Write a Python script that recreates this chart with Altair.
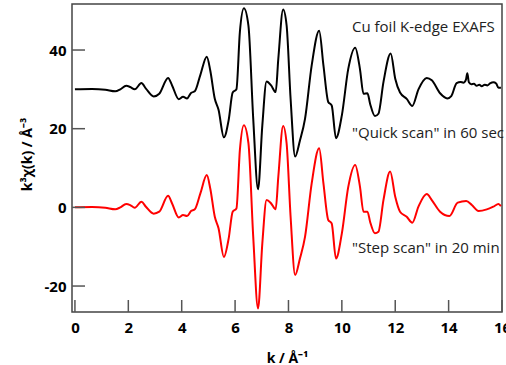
import altair as alt
import pandas as pd

# k grid (Å^-1) and k^3-weighted chi(k) for the step scan (red)
k_step = [0, 0.64, 1.14, 1.51, 1.70, 1.92, 2.07, 2.24, 2.49, 2.66, 2.95, 3.16, 3.49, 3.64,
          3.89, 4.05, 4.20, 4.35, 4.49, 4.70, 4.94, 5.07, 5.24, 5.38, 5.58, 5.76, 5.91, 6.05,
          6.18, 6.33, 6.50, 6.68, 6.86, 7.02, 7.18, 7.35, 7.52, 7.62, 7.80, 7.93, 8.08, 8.25,
          8.43, 8.62, 8.87, 9.15, 9.31, 9.49, 9.62, 9.78, 10.0, 10.24, 10.5, 10.68, 10.81,
          10.96, 11.06, 11.24, 11.37, 11.56, 11.81, 12.0, 12.18, 12.43, 12.64, 12.87, 13.18,
          13.37, 13.68, 14.03, 14.34, 14.66, 14.87, 15.12, 15.43, 15.68, 15.87, 15.96]
chi_step = [0, 0.1, -0.1, -0.5, 0, 0.84, 0.58, -0.1, 1.43, 0.15, -1.6, -1.1, 2.96, 1.0,
            -2.55, -1.96, -2.2, -0.94, -0.5, 3.56, 8.2, 4.8, -2.4, -5.3, -12.6, -7.9, -1.1, -0.3,
            14.6, 20.9, 16.3, -7.5, -25.7, -9.2, 1.86, 1.0, -0.5, 7.8, 20.7, 16.3, -2.4, -17.2,
            -13.0, -7.5, 6.1, 15.0, 6.1, -3.2, -4.1, -13.0, -6.6, 5.2, 10.8, 5.2, -1.1,
            -1.1, -3.7, -6.6, -6.2, 1.9, 9.1, 2.7, -1.1, -2.4, -3.9, 0.2, 3.4,
            1.86, -1.1, -2.2, 1.2, 1.6, 0.6, -0.9, -0.5, 0.2, 0.84, 0.3]

# quick scan (black), shifted up by 30 for display
k_quick = [0, 0.64, 1.14, 1.51, 1.70, 1.92, 2.07, 2.24, 2.49, 2.66, 2.95, 3.16, 3.49, 3.64,
           3.89, 4.05, 4.20, 4.35, 4.49, 4.70, 4.94, 5.07, 5.24, 5.38, 5.58, 5.76, 5.91, 6.05,
           6.18, 6.33, 6.50, 6.68, 6.86, 7.02, 7.18, 7.35, 7.52, 7.62, 7.80, 7.93, 8.08, 8.25,
           8.43, 8.62, 8.87, 9.15, 9.31, 9.49, 9.62, 9.78, 10.0, 10.24, 10.5, 10.68, 10.81,
           10.96, 11.06, 11.24, 11.37, 11.56, 11.83, 12.0, 12.18, 12.43, 12.64, 12.87, 13.18,
           13.37, 13.68, 13.95, 14.1, 14.3, 14.45, 14.55, 14.65, 14.7, 14.76, 14.85, 14.95,
           15.05, 15.15, 15.24, 15.35, 15.45, 15.55, 15.68, 15.78, 15.87, 15.96]
chi_quick = [30.0, 30.1, 29.9, 29.5, 30.0, 30.9, 30.6, 30.0, 31.6, 30.2, 28.2, 28.9, 32.9, 31.0,
             27.5, 28.1, 27.7, 29.1, 29.5, 33.7, 38.3, 34.8, 27.6, 24.8, 17.8, 22.2, 29.2, 30.0,
             44.6, 50.6, 46.2, 22.5, 4.6, 20.8, 32.0, 31.0, 29.3, 37.8, 50.3, 46.3, 27.6, 12.9,
             17.0, 22.5, 36.1, 44.9, 36.1, 26.8, 25.9, 17.6, 23.4, 35.2, 40.6, 35.1, 28.9,
             29.0, 26.3, 23.2, 23.8, 31.9, 39.1, 32.7, 29.2, 27.6, 25.8, 30.0, 32.9,
             32.3, 29.0, 27.7, 28.3, 31.6, 31.9, 31.7, 32.5, 34.1, 31.8, 31.3, 31.4,
             30.9, 31.2, 30.8, 31.2, 31.0, 31.5, 31.8, 31.5, 30.4, 30.4]

x_ticks = [0, 2, 4, 6, 8, 10, 12, 14, 16]
y_ticks = [-20, 0, 20, 40]

notes = ["Cu foil K-edge EXAFS", "\"Quick scan\" in 60 sec", "\"Step scan\" in 20 min"]

FONT = "Open Sans"

step = pd.DataFrame({"k": k_step, "chi": chi_step})
quick = pd.DataFrame({"k": k_quick, "chi": chi_quick})

xs = alt.Scale(domain=[-0.11, 16], nice=False, zero=False)
ys = alt.Scale(domain=[-26.6, 51.7], nice=False, zero=False)

x_axis = alt.Axis(values=x_ticks, ticks=False, domain=False, grid=False,
                  labelFont=FONT, labelFontWeight="bold", labelFontSize=15,
                  labelColor="#000", labelPadding=8, labelFlush=False,
                  labelExpr="'' + datum.value",
                  title="k / Å⁻¹", titleFont=FONT, titleFontWeight="bold", titleFontSize=14,
                  titleColor="#000", titleX=215, titleY=46, titleBaseline="middle")
y_axis = alt.Axis(values=y_ticks, ticks=False, domain=False, grid=False,
                  labelFont=FONT, labelFontWeight="bold", labelFontSize=15,
                  labelColor="#000", labelPadding=6,
                  labelExpr="'' + datum.value",
                  title="k³χ(k) / Å⁻³", titleFont=FONT, titleFontWeight="bold", titleFontSize=14,
                  titleColor="#000", titleX=-45, titleY=150, titleBaseline="middle")

red_line = alt.Chart(step).mark_line(color="#ff0000", strokeWidth=2, interpolate="monotone",
                                     clip=True).encode(
    x=alt.X("k:Q", scale=xs, axis=x_axis),
    y=alt.Y("chi:Q", scale=ys, axis=y_axis),
)
black_line = alt.Chart(quick).mark_line(color="#000000", strokeWidth=2, interpolate="monotone",
                                        clip=True).encode(
    x=alt.X("k:Q", scale=xs, axis=x_axis),
    y=alt.Y("chi:Q", scale=ys, axis=y_axis),
)

# inward tick marks
xt = alt.Chart(pd.DataFrame({"k": x_ticks})).mark_rule(color="#555", strokeWidth=1.5).encode(
    x=alt.X("k:Q", scale=xs, axis=x_axis), y=alt.value(308), y2=alt.value(296))
yt = alt.Chart(pd.DataFrame({"chi": y_ticks})).mark_rule(color="#555", strokeWidth=1.5).encode(
    y=alt.Y("chi:Q", scale=ys, axis=y_axis), x=alt.value(0), x2=alt.value(13))

note_df = pd.DataFrame({"t": notes, "py": [23, 129, 244]})
txt = alt.Chart(note_df).mark_text(align="left", baseline="middle", font=FONT, fontSize=15,
                                   color="#222").encode(
    x=alt.value(280), y=alt.Y("py:Q", scale=None), text="t:N")

chart = alt.layer(black_line, red_line, xt, yt, txt).properties(
    width=430, height=308,
    padding={"left": 72, "top": 4, "right": 4, "bottom": 53},
    autosize="none",
    background="white",
).configure_view(stroke="#444", strokeWidth=1.5)

chart.save("out.html", embed_options={"renderer": "svg", "actions": False})
